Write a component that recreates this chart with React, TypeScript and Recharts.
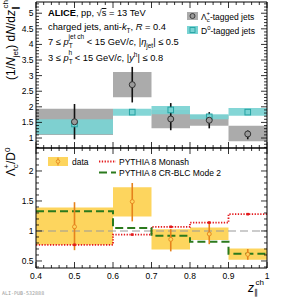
import React from 'react';
import { ComposedChart, XAxis, YAxis, ReferenceArea, ReferenceLine, Line, Scatter, ErrorBar } from 'recharts';

const F = "'Liberation Sans', Arial, Helvetica, sans-serif";

// bins in z_||^ch
const binLo = [0.4, 0.6, 0.7, 0.8, 0.9];
const binHi = [0.6, 0.7, 0.8, 0.9, 1.0];
const binCenter = [0.5, 0.65, 0.75, 0.85, 0.95];

// Lambda_c-tagged jets
const lcValue = [1.52, 2.71, 1.61, 1.57, 1.13];
const lcStatLo = [0.96, 2.14, 1.25, 1.31, 0.96];
const lcStatHi = [2.09, 3.28, 2.12, 1.83, 1.24];
const lcSystLo = [1.1, 2.31, 1.31, 1.39, 0.9];
const lcSystHi = [1.94, 3.12, 1.9, 1.74, 1.39];

// D0-tagged jets
const d0Value = [1.45, 1.83, 1.9, 1.68, 1.83];
const d0SystLo = [1.12, 1.71, 1.76, 1.6, 1.71];
const d0SystHi = [1.6, 1.94, 2.03, 1.76, 1.96];

// ratio Lambda_c / D0
const ratioValue = [1.07, 1.49, 0.86, 0.95, 0.61];
const ratioStatLo = [0.68, 1.16, 0.66, 0.78, 0.52];
const ratioStatHi = [1.48, 1.8, 1.03, 1.16, 0.7];
const ratioSystLo = [0.77, 1.24, 0.69, 0.85, 0.52];
const ratioSystHi = [1.39, 1.73, 1.03, 1.06, 0.71];

// PYTHIA predictions
const monashValue = [0.77, 0.94, 1.07, 1.14, 1.28];
const crBlcValue = [1.33, 1.05, 0.92, 0.82, 0.62];

// axis ticks
const xMajorTicks = [0.4, 0.5, 0.6, 0.7, 0.8, 0.9, 1.0];
const xTickLabels = ['0.4', '0.5', '0.6', '0.7', '0.8', '0.9', '1'];
const topYMajorTicks = [1, 1.5, 2, 2.5, 3, 3.5, 4, 4.5, 5];
const topYTickLabels = ['1', '1.5', '2', '2.5', '3', '3.5', '4', '4.5', '5'];
const botYMajorTicks = [0.5, 1, 1.5, 2];
const botYTickLabels = ['0.5', '1', '1.5', '2'];

const topDomain = [0.68, 5.36];
const botDomain = [0.383, 2.383];

const range = (a: number, b: number, s: number) => {
  const n = Math.round((b - a) / s);
  return Array.from({ length: n + 1 }, (_, i) => Math.round((a + i * s) * 1000) / 1000);
};
const xTicks = range(0.4, 1.0, 0.02);
const topYTicks = range(0.7, 5.3, 0.1);
const botYTicks = range(0.4, 2.3, 0.1);

const findIdx = (arr: number[], v: number) => arr.findIndex((m) => Math.abs(m - v) < 1e-6);

const makeYTick = (side: 'left' | 'right', majors: number[], labels: string[] | null) => (props: any) => {
  const { x, y, payload } = props;
  const idx = findIdx(majors, payload.value);
  const major = idx >= 0;
  const len = major ? 6 : 3;
  const d = side === 'left' ? 1 : -1;
  return (
    <g>
      <line x1={x} y1={y} x2={x + d * len} y2={y} stroke="#000" strokeWidth={0.8} />
      {labels && major ? (
        <text x={x - 2.5} y={y} dy="0.35em" textAnchor="end" fontSize={8.5} fontFamily={F} fill="#000">
          {labels[idx]}
        </text>
      ) : null}
    </g>
  );
};

const makeXTick = (side: 'bottom' | 'top', labels: string[] | null) => (props: any) => {
  const { x, y, payload } = props;
  const idx = findIdx(xMajorTicks, payload.value);
  const major = idx >= 0;
  const len = major ? 6 : 3;
  const d = side === 'bottom' ? -1 : 1;
  return (
    <g>
      <line x1={x} y1={y} x2={x} y2={y + d * len} stroke="#000" strokeWidth={0.8} />
      {labels && major ? (
        <text x={x} y={y + 11} textAnchor="middle" fontSize={8.5} fontFamily={F} fill="#000">
          {labels[idx]}
        </text>
      ) : null}
    </g>
  );
};

const stepData = (vals: number[]) => [
  ...binLo.map((x, i) => ({ x, y: vals[i] })),
  { x: binHi[binHi.length - 1], y: vals[vals.length - 1] },
];

const lcPoints = binCenter.map((x, i) => ({
  x,
  y: lcValue[i],
  err: [lcValue[i] - lcStatLo[i], lcStatHi[i] - lcValue[i]],
}));
const d0Points = binCenter.map((x, i) => ({ x, y: d0Value[i] }));
const ratioPoints = binCenter.map((x, i) => ({
  x,
  y: ratioValue[i],
  err: [ratioValue[i] - ratioStatLo[i], ratioStatHi[i] - ratioValue[i]],
}));
const monashPoints = binCenter.map((x, i) => ({ x, y: monashValue[i] }));

const GRAY = '#ababab';
const TEAL = '#79d3d3';
const YELLOW = '#fdd55e';
const ORANGE = '#e5821c';
const RED = '#e3191c';
const GREEN = '#2b7a1d';

const axes = (domain: number[], yTicks: number[], yMajors: number[], yLabels: string[], xLabels: string[] | null) => [
  <XAxis key="xb" xAxisId={0} type="number" dataKey="x" domain={[0.4, 1]} allowDataOverflow ticks={xTicks} interval={0}
    tickSize={0} tickMargin={0} height={1} tick={makeXTick('bottom', xLabels)} tickLine={false} axisLine={{ stroke: '#000' }} />,
  <XAxis key="xt" xAxisId="t" orientation="top" type="number" dataKey="x" domain={[0.4, 1]} allowDataOverflow ticks={xTicks} interval={0}
    tickSize={0} tickMargin={0} height={1} tick={makeXTick('top', null)} tickLine={false} axisLine={{ stroke: '#000' }} />,
  <YAxis key="yl" yAxisId={0} type="number" domain={domain} allowDataOverflow ticks={yTicks} interval={0}
    tickSize={0} tickMargin={0} width={1} tick={makeYTick('left', yMajors, yLabels)} tickLine={false} axisLine={{ stroke: '#000' }} />,
  <YAxis key="yr" yAxisId="r" orientation="right" type="number" domain={domain} allowDataOverflow ticks={yTicks} interval={0}
    tickSize={0} tickMargin={0} width={1} tick={makeYTick('right', yMajors, null)} tickLine={false} axisLine={{ stroke: '#000' }} />,
];

const AN = 9.3;

export default function App() {
  return (
    <div style={{ position: 'absolute', left: 0, top: 0, width: 297, height: 297, background: '#fff', fontFamily: F }}>
      <div style={{ position: 'absolute', left: 0, top: 0 }}>
        <ComposedChart width={297} height={150} margin={{ top: 1, right: 29, bottom: 1, left: 35 }}>
          {axes(topDomain, topYTicks, topYMajorTicks, topYTickLabels, null)}
          {binLo.map((lo, i) => (
            <ReferenceArea key={'g' + i} x1={lo} x2={binHi[i]} y1={lcSystLo[i]} y2={lcSystHi[i]} fill={GRAY} fillOpacity={1} stroke="none" />
          ))}
          {binLo.map((lo, i) => (
            <ReferenceArea key={'t' + i} x1={lo} x2={binHi[i]} y1={d0SystLo[i]} y2={d0SystHi[i]} fill={TEAL} fillOpacity={0.92} stroke="none" />
          ))}
          <Scatter data={d0Points} dataKey="y" isAnimationActive={false}
            shape={(p: any) => <rect x={p.cx - 2.8} y={p.cy - 2.8} width={5.6} height={5.6} fill={TEAL} stroke="#26a3a3" strokeWidth={1} />} />
          <Scatter data={lcPoints} dataKey="y" isAnimationActive={false}
            shape={(p: any) => <circle cx={p.cx} cy={p.cy} r={3} fill="#9a9a9a" stroke="#333" strokeWidth={1} />}>
            <ErrorBar dataKey="err" direction="y" width={0} stroke="#111" strokeWidth={1.6} />
          </Scatter>
        </ComposedChart>
      </div>
      <div style={{ position: 'absolute', left: 0, top: 0 }}>
        <ComposedChart width={297} height={297} margin={{ top: 147, right: 29, bottom: 28, left: 35 }}>
          {axes(botDomain, botYTicks, botYMajorTicks, botYTickLabels, xTickLabels)}
          {binLo.map((lo, i) => (
            <ReferenceArea key={'y' + i} x1={lo} x2={binHi[i]} y1={ratioSystLo[i]} y2={ratioSystHi[i]} fill={YELLOW} fillOpacity={1} stroke="none" />
          ))}
          <ReferenceLine y={1} stroke="#9a9a9a" strokeWidth={1.2} strokeDasharray="8 4" />
          <Line data={stepData(monashValue)} dataKey="y" type="stepAfter" stroke={RED} strokeWidth={1.8} strokeDasharray="1.3 1.5" dot={false} isAnimationActive={false} />
          <Line data={stepData(crBlcValue)} dataKey="y" type="stepAfter" stroke={GREEN} strokeWidth={2} strokeDasharray="8 4" dot={false} isAnimationActive={false} />
          <Scatter data={monashPoints} dataKey="y" isAnimationActive={false}
            shape={(p: any) => <rect x={p.cx - 1.3} y={p.cy - 1.3} width={2.6} height={2.6} fill={RED} />} />
          <Scatter data={ratioPoints} dataKey="y" isAnimationActive={false}
            shape={(p: any) => <circle cx={p.cx} cy={p.cy} r={2} fill={YELLOW} stroke={ORANGE} strokeWidth={0.9} />}>
            <ErrorBar dataKey="err" direction="y" width={0} stroke={ORANGE} strokeWidth={1.6} />
          </Scatter>
        </ComposedChart>
      </div>
      <svg width={297} height={297} style={{ position: 'absolute', left: 0, top: 0, pointerEvents: 'none' }} fontFamily={F}>
        {/* annotations */}
        <text x={48} y={16} fontSize={AN} fill="#000">
          <tspan fontWeight="bold">ALICE</tspan>
          <tspan>, pp, √</tspan>
          <tspan textDecoration="overline">s</tspan>
          <tspan> = 13 TeV</tspan>
        </text>
        <text x={48} y={30} fontSize={AN} fill="#000">
          <tspan>charged jets, anti-</tspan>
          <tspan fontStyle="italic">k</tspan>
          <tspan fontSize={6.5} dy={2.5}>T</tspan>
          <tspan dy={-2.5}>, </tspan>
          <tspan fontStyle="italic">R</tspan>
          <tspan> = 0.4</tspan>
        </text>
        <text x={48} y={45} fontSize={AN} fill="#000">
          <tspan>7 ≤ </tspan>
          <tspan fontStyle="italic">p</tspan>
          <tspan fontSize={6.5} dy={2.5}>T</tspan>
          <tspan fontSize={6.5} dx={-4} dy={-8.5}>jet ch</tspan>
          <tspan dy={6}> &lt; 15 GeV/</tspan>
          <tspan fontStyle="italic">c</tspan>
          <tspan>, |</tspan>
          <tspan fontStyle="italic">η</tspan>
          <tspan fontSize={6.5} dy={2.5}>jet</tspan>
          <tspan dy={-2.5}>| ≤ 0.5</tspan>
        </text>
        <text x={48} y={61} fontSize={AN} fill="#000">
          <tspan>3 ≤ </tspan>
          <tspan fontStyle="italic">p</tspan>
          <tspan fontSize={6.5} dy={2.5}>T</tspan>
          <tspan fontSize={6.5} dx={-4} dy={-8.5}>h</tspan>
          <tspan dy={6}> &lt; 15 GeV/</tspan>
          <tspan fontStyle="italic">c</tspan>
          <tspan>, |</tspan>
          <tspan fontStyle="italic">y</tspan>
          <tspan fontSize={6.5} dy={-4}>h</tspan>
          <tspan dy={4}>| ≤ 0.8</tspan>
        </text>

        {/* top legend */}
        <rect x={187} y={12} width={11} height={8} fill={GRAY} />
        <circle cx={192.5} cy={16} r={2.5} fill="#9a9a9a" stroke="#333" strokeWidth={0.9} />
        <text x={201} y={19.5} fontSize={8.5} fill="#000">
          <tspan>Λ</tspan>
          <tspan fontSize={6} dy={2.5}>c</tspan>
          <tspan fontSize={6} dx={-3.3} dy={-7}>+</tspan>
          <tspan dy={4.5}>-tagged jets</tspan>
        </text>
        <rect x={187} y={26} width={11} height={8} fill={TEAL} />
        <rect x={190} y={27.5} width={5} height={5} fill={TEAL} stroke="#26a3a3" strokeWidth={0.9} />
        <text x={201} y={33.5} fontSize={8.5} fill="#000">
          <tspan>D</tspan>
          <tspan fontSize={6} dy={-4}>0</tspan>
          <tspan dy={4}>-tagged jets</tspan>
        </text>

        {/* bottom legend */}
        <rect x={48} y={157} width={20} height={9} fill={YELLOW} />
        <line x1={58} y1={157.5} x2={58} y2={165.5} stroke={ORANGE} strokeWidth={1} />
        <circle cx={58} cy={161.5} r={1.8} fill={YELLOW} stroke={ORANGE} strokeWidth={0.8} />
        <text x={72} y={164.5} fontSize={8.5} fill="#000">data</text>
        <line x1={99} y1={161.5} x2={116} y2={161.5} stroke={RED} strokeWidth={1.8} strokeDasharray="1.3 1.5" />
        <text x={119} y={164.5} fontSize={8.5} fill="#000">PYTHIA 8 Monash</text>
        <line x1={99} y1={172.5} x2={116} y2={172.5} stroke={GREEN} strokeWidth={2} strokeDasharray="8 4" />
        <text x={119} y={175.5} fontSize={8.5} fill="#000">PYTHIA 8 CR-BLC Mode 2</text>

        {/* axis titles */}
        <text transform="translate(15,40) rotate(-90)" textAnchor="middle" fontSize={12} fill="#000">
          <tspan>(1/</tspan>
          <tspan fontStyle="italic">N</tspan>
          <tspan fontSize={8} dy={3}>jet</tspan>
          <tspan dy={-3}>) d</tspan>
          <tspan fontStyle="italic">N</tspan>
          <tspan>/d</tspan>
          <tspan fontStyle="italic">z</tspan>
          <tspan fontSize={8} dy={3}>∥</tspan>
          <tspan fontSize={8} dx={-2.5} dy={-10}>ch</tspan>
        </text>
        <text transform="translate(15,162) rotate(-90)" textAnchor="middle" fontSize={12} fill="#000">
          <tspan>Λ</tspan>
          <tspan fontSize={8} dy={3}>c</tspan>
          <tspan fontSize={8} dx={-4.4} dy={-9}>+</tspan>
          <tspan dy={6}>/D</tspan>
          <tspan fontSize={8} dy={-5}>0</tspan>
        </text>
        <text x={248} y={292} fontSize={12} fill="#000">
          <tspan fontStyle="italic">z</tspan>
          <tspan fontSize={8} dy={3}>∥</tspan>
          <tspan fontSize={8} dx={-2.5} dy={-10.5}>ch</tspan>
        </text>
        <text x={2} y={295} fontSize={5} fill="#999" fontFamily="'DejaVu Sans Mono', monospace">ALI-PUB-532888</text>
      </svg>
    </div>
  );
}
